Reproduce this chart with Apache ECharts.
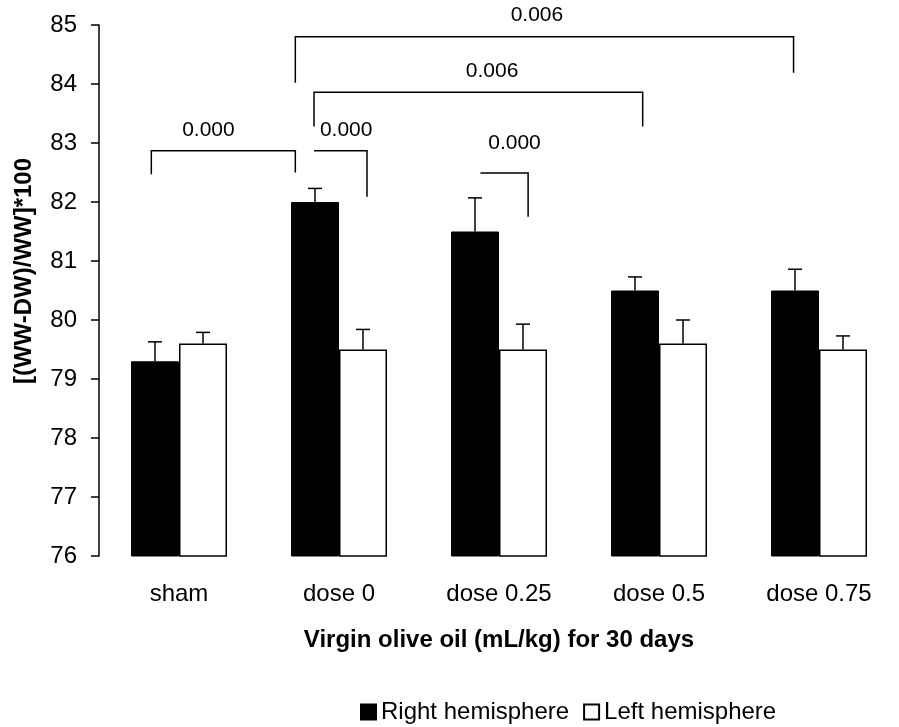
<!DOCTYPE html>
<html>
<head>
<meta charset="utf-8">
<script src="https://cdn.jsdelivr.net/npm/echarts@6/dist/echarts.min.js"></script>
<style>html,body{margin:0;padding:0;background:#fff}#c{width:899px;height:727px}</style>
</head>
<body>
<div id="c"></div>
<script>
// ---- data ----
var categories = ['sham', 'dose 0', 'dose 0.25', 'dose 0.5', 'dose 0.75'];
var rightHemisphere = [79.3, 82.0, 81.5, 80.5, 80.5];
var leftHemisphere  = [79.6, 79.5, 79.5, 79.6, 79.5];
var rightErr = [0.33, 0.23, 0.57, 0.23, 0.36];
var leftErr  = [0.19, 0.34, 0.43, 0.40, 0.23];
var yTicks = [76, 77, 78, 79, 80, 81, 82, 83, 84, 85];

// significance brackets (x in category units, y in axis values)
var bracketLabels   = ['0.000', '0.000', '0.006', '0.006', '0.000'];
var bracketX1       = [-0.173, 0.844, 0.844, 0.727, 1.884];
var bracketX2       = [0.727, 1.175, 2.898, 3.841, 2.182];
var bracketTop      = [82.87, 82.87, 83.86, 84.80, 82.49];
var bracketLeftEnd  = [82.47, 82.87, 83.28, 84.02, 82.49];
var bracketRightEnd = [82.50, 82.09, 83.28, 84.19, 81.75];
var bracketLabelX   = [0.184, 1.045, 1.957, 2.237, 2.097];
var bracketLabelY   = [83.22, 83.22, 84.21, 85.17, 83.00];

var FONT = "Arial, 'Liberation Sans', sans-serif";
var BAR_W = 48;

function errorRender(values, errs, offset) {
  return function (params, api) {
    var i = params.dataIndex;
    var base = api.coord([i, values[i]]);
    var top = api.coord([i, values[i] + errs[i]]);
    var x = base[0] + offset;
    var cap = 7;
    return {
      type: 'group',
      children: [
        { type: 'line', shape: { x1: x, y1: base[1], x2: x, y2: top[1] }, style: { stroke: '#000', lineWidth: 1.5 } },
        { type: 'line', shape: { x1: x - cap, y1: top[1], x2: x + cap, y2: top[1] }, style: { stroke: '#000', lineWidth: 1.5 } }
      ]
    };
  };
}

var chart = echarts.init(document.getElementById('c'), null, { renderer: 'canvas' });
chart.setOption({
  backgroundColor: '#fff',
  animation: false,
  textStyle: { fontFamily: FONT },
  grid: { left: 99, top: 25, width: 822, height: 531 },
  legend: {
    data: ['Right hemisphere', 'Left hemisphere'],
    left: 355, top: 695,
    icon: 'rect', itemWidth: 15, itemHeight: 15, itemGap: 14,
    textStyle: { fontSize: 24, color: '#000', fontFamily: FONT }
  },
  xAxis: [{
    type: 'category',
    data: categories,
    axisLine: { show: false },
    axisTick: { show: false },
    axisLabel: { fontSize: 24, color: '#000', margin: 26, fontFamily: FONT },
    name: 'Virgin olive oil (mL/kg) for 30 days',
    nameLocation: 'middle',
    nameGap: 72,
    nameTextStyle: { fontSize: 24, fontWeight: 'bold', color: '#000', fontFamily: FONT }
  }, {
    type: 'value', min: -0.5, max: 4.5, show: false,
    axisLine: { onZero: false }
  }],
  yAxis: [{
    type: 'value',
    min: yTicks[0], max: yTicks[yTicks.length - 1], interval: 1,
    axisLine: { show: true, onZero: false, lineStyle: { color: '#000', width: 1.5 } },
    axisTick: { show: true, length: 8, lineStyle: { color: '#000', width: 1.5 } },
    axisLabel: { fontSize: 24, color: '#000', margin: 22, fontFamily: FONT },
    splitLine: { show: false }
  }],
  graphic: [{
    type: 'text',
    x: 24, y: 271,
    rotation: Math.PI / 2,
    style: {
      text: '[(WW-DW)/WW]*100',
      font: 'bold 24px ' + FONT,
      fill: '#000',
      align: 'center',
      verticalAlign: 'middle'
    }
  }],
  series: [{
    name: 'Right hemisphere',
    type: 'bar',
    data: rightHemisphere,
    barWidth: BAR_W,
    barGap: '0%',
    itemStyle: { color: '#000', borderColor: '#000', borderWidth: 1 }
  }, {
    name: 'Left hemisphere',
    type: 'bar',
    data: leftHemisphere,
    barWidth: BAR_W,
    barGap: '0%',
    itemStyle: { color: '#fff', borderColor: '#000', borderWidth: 1.5 }
  }, {
    type: 'custom',
    name: 'errR',
    data: rightHemisphere,
    renderItem: errorRender(rightHemisphere, rightErr, -BAR_W / 2),
    clip: false, z: 5
  }, {
    type: 'custom',
    name: 'errL',
    data: leftHemisphere,
    renderItem: errorRender(leftHemisphere, leftErr, BAR_W / 2),
    clip: false, z: 5
  }, {
    type: 'custom',
    name: 'brackets',
    xAxisIndex: 1,
    yAxisIndex: 0,
    clip: false,
    z: 6,
    data: bracketLabels.map(function (l, i) { return [bracketX1[i], bracketTop[i]]; }),
    renderItem: function (params, api) {
      var i = params.dataIndex;
      var pL = api.coord([bracketX1[i], bracketLeftEnd[i]]);
      var pTL = api.coord([bracketX1[i], bracketTop[i]]);
      var pTR = api.coord([bracketX2[i], bracketTop[i]]);
      var pR = api.coord([bracketX2[i], bracketRightEnd[i]]);
      var pLab = api.coord([bracketLabelX[i], bracketLabelY[i]]);
      return {
        type: 'group',
        children: [{
          type: 'polyline',
          shape: { points: [pL, pTL, pTR, pR] },
          style: { stroke: '#000', lineWidth: 1.5, fill: null }
        }, {
          type: 'text',
          x: pLab[0], y: pLab[1],
          style: {
            text: bracketLabels[i],
            font: '21px ' + FONT,
            fill: '#000',
            align: 'center',
            verticalAlign: 'middle'
          }
        }]
      };
    }
  }]
});
</script>
</body>
</html>
